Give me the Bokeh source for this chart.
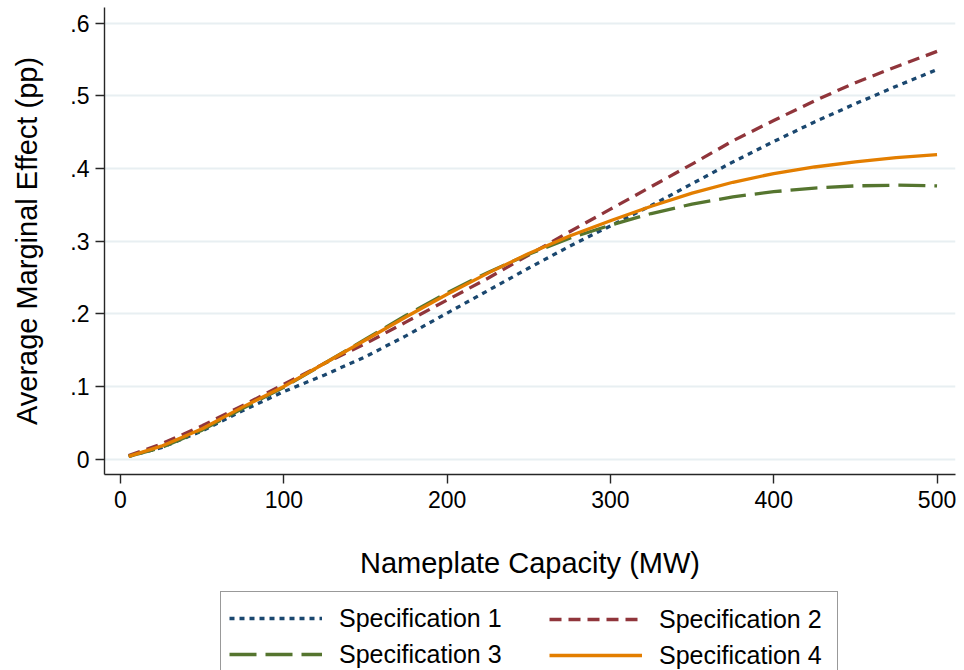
from bokeh.plotting import figure
from bokeh.models import Range1d, FixedTicker, Legend, LegendItem
from bokeh.layouts import column
from bokeh.embed import file_html
from bokeh.resources import INLINE

# ---- data ----
capacity = [5, 25, 50, 75, 100, 125, 150, 175, 200, 225, 250, 275, 300,
            325, 350, 375, 400, 425, 450, 475, 500]
spec1 = [0.004, 0.016, 0.039, 0.067, 0.093, 0.116, 0.141, 0.170, 0.201, 0.232,
         0.263, 0.293, 0.321, 0.349, 0.379, 0.409, 0.437, 0.464, 0.489, 0.513, 0.536]
spec2 = [0.005, 0.021, 0.046, 0.074, 0.103, 0.132, 0.159, 0.189, 0.219, 0.249,
         0.281, 0.313, 0.344, 0.375, 0.406, 0.438, 0.466, 0.493, 0.518, 0.540, 0.561]
spec3 = [0.004, 0.016, 0.040, 0.070, 0.099, 0.132, 0.165, 0.198, 0.229, 0.257,
         0.282, 0.304, 0.322, 0.338, 0.351, 0.361, 0.368, 0.373, 0.376, 0.377, 0.376]
spec4 = [0.004, 0.018, 0.042, 0.072, 0.100, 0.132, 0.164, 0.196, 0.227, 0.256,
         0.283, 0.307, 0.328, 0.348, 0.366, 0.381, 0.393, 0.402, 0.409, 0.415, 0.419]
series_names = ["Specification 1", "Specification 2", "Specification 3", "Specification 4"]
x_ticks = [0, 100, 200, 300, 400, 500]
y_ticks = [0, 0.1, 0.2, 0.3, 0.4, 0.5, 0.6]
y_tick_labels = ["0", ".1", ".2", ".3", ".4", ".5", ".6"]

FONT = "Liberation Sans"
colors = ["#1a476f", "#90353b", "#55752f", "#e37e00"]
dashes = ["5 5", "12 7", "27 9", "solid"]
LW = 3.3
all_series = [spec1, spec2, spec3, spec4]

p = figure(width=964, height=585, output_backend="svg", toolbar_location=None,
           x_range=Range1d(-9.8, 511.3), y_range=Range1d(-0.021, 0.6214),
           min_border_left=104, min_border_right=9, min_border_top=7,
           min_border_bottom=111)
p.outline_line_color = None
p.background_fill_color = "white"
p.border_fill_color = "white"

for ys, c, d in zip(all_series, colors, dashes):
    p.line(capacity, ys, line_color=c, line_width=LW, line_dash=d,
           line_cap="butt", line_join="round")

# axes
p.xaxis.ticker = FixedTicker(ticks=x_ticks)
p.yaxis.ticker = FixedTicker(ticks=y_ticks)
p.yaxis.major_label_overrides = {t: l for t, l in zip(y_ticks, y_tick_labels)}
for ax in (p.xaxis[0], p.yaxis[0]):
    ax.axis_line_color = "#262626"
    ax.axis_line_width = 1.4
    ax.major_tick_line_color = "#262626"
    ax.major_tick_line_width = 1.4
    ax.major_tick_in = 0
    ax.major_tick_out = 9
    ax.minor_tick_line_color = None
    ax.major_label_text_font = FONT
    ax.major_label_text_font_size = "23px"
    ax.major_label_text_color = "black"
    ax.axis_label_text_font = FONT
    ax.axis_label_text_font_size = "29px"
    ax.axis_label_text_font_style = "normal"
    ax.axis_label_text_color = "black"
p.xaxis.axis_label = "Nameplate Capacity (MW)"
p.yaxis.axis_label = "Average Marginal Effect (pp)"
p.xaxis.major_label_standoff = 7
p.yaxis.major_label_standoff = 6
p.xaxis.axis_label_standoff = 36
p.yaxis.axis_label_standoff = 24

p.xgrid.visible = False
p.ygrid.ticker = FixedTicker(ticks=y_ticks)
p.ygrid.grid_line_color = "#e8eff2"
p.ygrid.grid_line_width = 2

# ---- legend strip (bottom of the page, cut off by the window like the reference) ----
p2 = figure(width=964, height=85, output_backend="svg", toolbar_location=None,
            x_range=Range1d(-2, -1), y_range=Range1d(-2, -1),
            x_axis_type=None, y_axis_type=None,
            min_border_left=0, min_border_right=0, min_border_top=0, min_border_bottom=0)
p2.outline_line_color = None
p2.xgrid.visible = False
p2.ygrid.visible = False
# legend proxies: same series, but outside this strip's ranges so nothing is drawn
proxies = [p2.line(capacity, ys, line_color=c, line_width=LW, line_dash=d, line_cap="butt")
           for ys, c, d in zip(all_series, colors, dashes)]

common = dict(orientation="vertical", padding=8, spacing=0, glyph_width=93,
              glyph_height=36, label_height=36, label_standoff=17,
              label_text_font=FONT, label_text_font_size="25px",
              label_text_color="black", margin=0)

# the strip's frame is aligned with the main frame (left edge at 104 px)
legA = Legend(items=[LegendItem(label=series_names[0], renderers=[proxies[0]]),
                     LegendItem(label=series_names[2], renderers=[proxies[2]])],
              location=(116, -11), label_width=490,
              border_line_color="#333333", border_line_width=1.2,
              background_fill_color="white", background_fill_alpha=1, **common)
legB = Legend(items=[LegendItem(label=series_names[1], renderers=[proxies[1]]),
                     LegendItem(label=series_names[3], renderers=[proxies[3]])],
              location=(437, -11), label_width=150,
              border_line_alpha=0, background_fill_alpha=0, **common)
p2.add_layout(legA, "center")
p2.add_layout(legB, "center")

layout = column(p, p2, spacing=0)
open("out.html", "w").write(file_html(layout, INLINE))
